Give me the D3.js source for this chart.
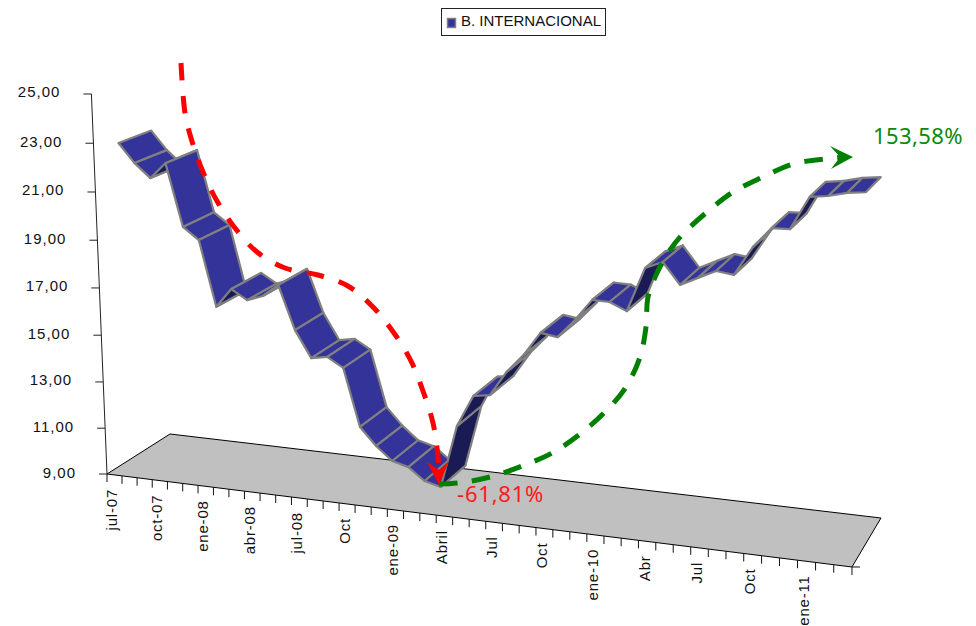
<!DOCTYPE html>
<html>
<head>
<meta charset="utf-8">
<script src="https://cdn.jsdelivr.net/npm/d3@7"></script>
<style>
body{margin:0;background:#fff;}
svg{display:block;}
text{font-family:"Liberation Sans",Arial,sans-serif;}
</style>
</head>
<body>
<div id="chart"></div>
<script>
// data
var seriesName="B. INTERNACIONAL";
var values=[22.77,21.99,21.42,22.09,19.50,19.01,16.27,17.08,16.68,16.92,17.44,15.62,14.51,14.63,14.24,
	11.82,11.09,10.53,10.35,9.84,9.67,12.32,13.65,13.76,14.79,15.55,16.52,16.42,17.17,18.05,
	18.03,17.73,19.50,19.80,18.96,19.30,19.63,19.54,20.68,21.47,21.49,22.77,22.86,23.03,23.11];
var tickLabels=["jul-07","oct-07","ene-08","abr-08","jul-08","Oct","ene-09","Abril","Jul","Oct","ene-10","Abr","Jul","Oct","ene-11"];
var yTicks=[9,11,13,15,17,19,21,23,25];
var dropLabel="-61,81%";
var riseLabel="153,58%";

// annotation curves, drawn by hand on the original so they stay in page coordinates
var redCurve=[[181,63],[185,113],[191,138],[203,172],[217,201],[235,228],[257,252],[285,268],[318,275],[348,286],[373,307],[394,333],[411,361],[423,391],[433,423],[438,457],[439,478]];
var greenCurve=[[439,484],[458,483],[490,477],[522,466],[552,453],[580,434],[605,412],[626,387],[640,357],[646,327],[648,297],[657,273],[670,250],[682,235],[707,212],[733,192],[763,177],[793,164],[825,159],[845,157]];
var redHead=[[439,485],[427,462],[439,470],[449,461]];
var greenHead=[[853,157],[830,146],[840,157],[831,169]];

var width=976,height=626;
var numOfCats=values.length;

// floor corners -> homography
var g=-0.09505,h=0.0517;
var a=664.0,b=71.79,cx=107;
var d=39.1,e=-17.56,f=474;
// vanishing point of the vertical lines
var vx=474,vy=9424,vk=0.04073;

var uScale=d3.scaleLinear().domain([0,numOfCats]).range([0,1]);
var zScale=d3.scaleLinear().domain([9,25]).range([0,1]);

function project(u,v,z){
	var q=vk*z;
	var w=g*u+h*v+1-q;
	return [(a*u+b*v+cx-q*vx)/w,(d*u+e*v+f-q*vy)/w];
}

var svg=d3.select("#chart").append("svg")
	.attr("width",width)
	.attr("height",height);

// floor
var floorPts=[project(0,0,0),project(1,0,0),project(1,1,0),project(0,1,0)];
svg.append("polygon")
	.attr("points",floorPts.join(" "))
	.style("fill","#c0c0c0")
	.style("stroke","#000")
	.style("stroke-width",1);

// y axis
var axisTop=project(0,0,1),axisBottom=project(0,0,0);
svg.append("line")
	.attr("x1",axisTop[0]).attr("y1",axisTop[1])
	.attr("x2",axisBottom[0]).attr("y2",axisBottom[1])
	.style("stroke","#222").style("stroke-width",1);

yTicks.forEach(function(t){
	var p=project(0,0,zScale(t));
	svg.append("line")
		.attr("x1",p[0]-8).attr("y1",p[1])
		.attr("x2",p[0]).attr("y2",p[1])
		.style("stroke","#222").style("stroke-width",1);
	svg.append("text")
		.attr("x",p[0]-31)
		.attr("y",p[1]+3.5)
		.attr("text-anchor","end")
		.style("font-size","15px")
		.style("letter-spacing","1px")
		.style("fill","#111")
		.text(t.toFixed(2).replace(".",","));
});

// x axis ticks
d3.range(numOfCats+1).forEach(function(i){
	var p=project(uScale(i),0,0);
	svg.append("line")
		.attr("x1",p[0]).attr("y1",p[1])
		.attr("x2",p[0]).attr("y2",p[1]+8)
		.style("stroke","#111").style("stroke-width",1);
});
var corner=project(1,0,0);
svg.append("line")
	.attr("x1",corner[0]).attr("y1",corner[1])
	.attr("x2",corner[0]+8).attr("y2",corner[1])
	.style("stroke","#111").style("stroke-width",1);

tickLabels.forEach(function(t,i){
	var p=project(uScale(i*3+0.5),0,0);
	svg.append("text")
		.attr("transform","translate("+(p[0]+2.5)+","+(p[1]+14)+") rotate(-90)")
		.attr("text-anchor","end")
		.style("font-size","15px")
		.style("letter-spacing","0.8px")
		.style("fill","#111")
		.text(t);
});

// ribbon, one quad per month
var depthFront=0.25,depthBack=0.75;
function quadSign(q){
	return d3.polygonArea(q);
}
d3.range(numOfCats-1).forEach(function(i){
	var u0=uScale(i+0.5),u1=uScale(i+1.5);
	var z0=zScale(values[i]),z1=zScale(values[i+1]);
	var q=[project(u0,depthFront,z0),project(u0,depthBack,z0),project(u1,depthBack,z1),project(u1,depthFront,z1)];
	svg.append("polygon")
		.attr("points",q.join(" "))
		.style("fill",quadSign(q)<0?"#333399":"#1a1a55")
		.style("stroke","#808080")
		.style("stroke-width",2.2)
		.style("stroke-linejoin","round");
});

// dashed arrows
var curve=d3.line().curve(d3.curveCatmullRom.alpha(0.5));
function addArrow(pts,head,color,dash){
	svg.append("path")
		.attr("d",curve(pts))
		.style("fill","none")
		.style("stroke",color)
		.style("stroke-width",5)
		.style("stroke-dasharray",dash);
	svg.append("polygon")
		.attr("points",head.join(" "))
		.style("fill",color);
}
addArrow(redCurve,redHead,"#ff0000","17.5,15.5");
addArrow(greenCurve,greenHead,"#008000","18.5,14.5");

svg.append("text")
	.attr("x",457).attr("y",502)
	.style("font-family","'Noto Sans'")
	.style("font-size","22px")
	.style("letter-spacing","0.8px")
	.style("fill","#ff1a1a")
	.text(dropLabel);
svg.append("text")
	.attr("x",873).attr("y",144)
	.style("font-family","'Noto Sans'")
	.style("font-size","22px")
	.style("letter-spacing","0.4px")
	.style("fill","#0a8a0a")
	.text(riseLabel);

// legend
var legend=svg.append("g").attr("class","legend");
legend.append("rect")
	.attr("x",441.5).attr("y",8.5)
	.attr("width",164).attr("height",27)
	.style("fill","#fff")
	.style("stroke","#222")
	.style("stroke-width",1);
legend.append("rect")
	.attr("x",447.5).attr("y",18.5)
	.attr("width",8).attr("height",9)
	.style("fill","#333399")
	.style("stroke","#808080")
	.style("stroke-width",1.5);
legend.append("text")
	.attr("x",461).attr("y",26)
	.style("font-size","15px")
	.style("fill","#111")
	.text(seriesName);
</script>
</body>
</html>
